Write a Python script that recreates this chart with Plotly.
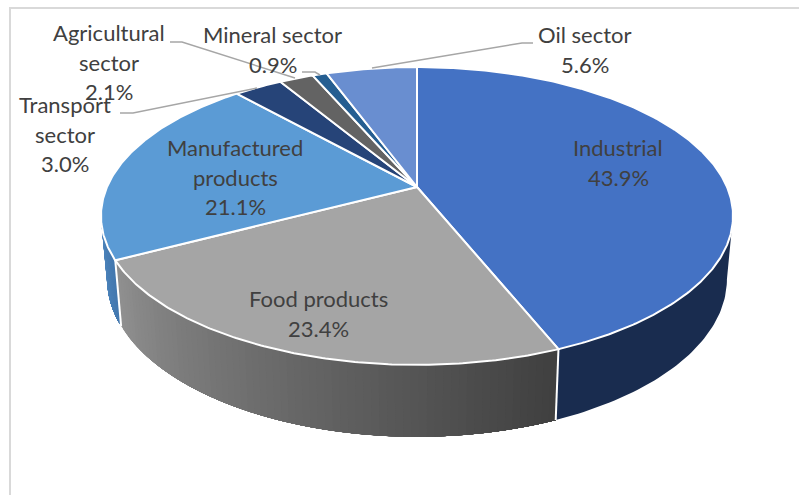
import numpy as np
import plotly.graph_objects as go

# ---- data ----
categories = ["Industrial", "Food products", "Manufactured products", "Transport sector",
              "Agricultural sector", "Mineral sector", "Oil sector"]
values = [43.9, 23.4, 21.1, 3.0, 2.1, 0.9, 5.6]

# ---- styles ----
top_colors = ["#4472C4", "#A5A5A5", "#5B9BD5", "#264478", "#636363", "#255E91", "#698ED0"]
wall_left = ["#192C4F", "#919191", "#5088C0", "#172A4A", "#3C3C3C", "#173A5A", "#40577F"]
wall_right = ["#192C4F", "#3F3F3F", "#4478AE", "#172A4A", "#3C3C3C", "#173A5A", "#40577F"]
TEXT = "#404040"
LEADER = "#A6A6A6"
FONT = "Lato"
FS = 22

# label line layout: category -> (x centre, first line y, line texts)
label_layout = {
    "Industrial": (618, 147.5, ["Industrial"]),
    "Food products": (318, 298.5, ["Food products"]),
    "Manufactured products": (235, 147.5, ["Manufactured", "products"]),
    "Transport sector": (65, 104.5, ["Transport", "sector"]),
    "Agricultural sector": (108.5, 32.5, ["Agricultural", "sector"]),
    "Mineral sector": (272.5, 34.5, ["Mineral sector"]),
    "Oil sector": (584.5, 34.5, ["Oil sector"]),
}
LINE_H = 29.5

leaders = [
    ([533, 522, 372], [43, 43, 68]),
    ([170, 182, 295], [42, 42, 78]),
    ([302, 315, 320], [72, 72, 75]),
    ([120, 133, 257], [113, 113, 88]),
]

# ---- projection of the tilted disc ----
CX = 417.0
K = 0.1946
TOP = dict(R=310.0, S=143.3, Y0=187.0)
BOT = dict(R=304.0, S=151.6, Y0=248.5)
# angle at which the disc outline turns back: walls are only visible between these
SIL = np.degrees(np.arccos(-K))


def project(theta_deg, disc, rho=1.0):
    t = np.radians(theta_deg)
    u, v = rho * np.sin(t), -rho * np.cos(t)
    d = 1 - K * v
    return CX + disc["R"] * u / d, disc["Y0"] + disc["S"] * v / d


def hex_mix(a, b, f):
    ca = [int(a[i:i + 2], 16) for i in (1, 3, 5)]
    cb = [int(b[i:i + 2], 16) for i in (1, 3, 5)]
    return "rgb(%d,%d,%d)" % tuple(round(x + (y - x) * f) for x, y in zip(ca, cb))


edges = np.concatenate([[0], np.cumsum(values)]) * 360 / sum(values)
fig = go.Figure()
skip = dict(hoverinfo="skip", showlegend=False)

# walls (only the front part, between the two silhouette angles)
for i in range(len(values)):
    a0, a1 = max(edges[i], SIL), min(edges[i + 1], 360 - SIL)
    if a0 >= a1:
        continue
    gradient = wall_left[i] != wall_right[i]
    n = max(2, int((edges[i + 1] - edges[i]) / 1.2)) if gradient else 1
    bounds = np.linspace(a0, a1, n + 1)
    # gradient runs from the far (left) end to the near (right) end, i.e. a1 -> a0
    for j in range(n - 1, -1, -1):
        th = np.linspace(a0, bounds[j + 1], max(3, int(bounds[j + 1] - a0) + 2))
        xt, yt = project(th, TOP)
        xb, yb = project(th, BOT)
        col = hex_mix(wall_right[i], wall_left[i], (j + 0.5) / n) if gradient else wall_left[i]
        fig.add_trace(go.Scatter(x=np.r_[xt, xb[::-1], xt[0]], y=np.r_[yt, yb[::-1], yt[0]],
                                 mode="lines", fill="toself", fillcolor=col,
                                 line=dict(width=0), **skip))

# white seams between visible walls
for i in range(len(values)):
    if SIL < edges[i + 1] < 360 - SIL:
        x0, y0 = project(edges[i + 1], TOP)
        x1, y1 = project(edges[i + 1], BOT)
        fig.add_trace(go.Scatter(x=[x0, x1], y=[y0, y1], mode="lines",
                                 line=dict(color="white", width=2), **skip))

# top surface
for i in range(len(values)):
    th = np.linspace(edges[i], edges[i + 1], max(3, int(edges[i + 1] - edges[i]) * 2))
    x, y = project(th, TOP)
    fig.add_trace(go.Scatter(x=np.r_[CX, x, CX], y=np.r_[TOP["Y0"], y, TOP["Y0"]],
                             mode="lines", fill="toself", fillcolor=top_colors[i],
                             line=dict(color="white", width=2), **skip))

# leader lines
for lx, ly in leaders:
    fig.add_trace(go.Scatter(x=lx, y=ly, mode="lines",
                             line=dict(color=LEADER, width=1.5), **skip))

# labels
for cat, val in zip(categories, values):
    xc, y0, lines = label_layout[cat]
    for k, txt in enumerate(lines + ["%.1f%%" % val]):
        fig.add_annotation(x=xc, y=y0 + k * LINE_H, text=txt, showarrow=False,
                           xanchor="center", yanchor="middle",
                           font=dict(family=FONT, size=FS, color=TEXT))

# chart frame
frame = dict(color="#D9D9D9", width=2)
fig.add_shape(type="line", x0=9, x1=799, y0=8, y1=8, line=frame)
fig.add_shape(type="line", x0=10, x1=10, y0=8, y1=495, line=frame)

fig.update_layout(
    width=799, height=495, margin=dict(l=0, r=0, t=0, b=0),
    paper_bgcolor="white", plot_bgcolor="white", showlegend=False,
    xaxis=dict(range=[0, 799], visible=False, fixedrange=True),
    yaxis=dict(range=[495, 0], visible=False, fixedrange=True),
)
fig.write_html("out.html", config={"displayModeBar": False},
               post_script="document.body.style.margin='0';document.documentElement.style.overflow='hidden';")
